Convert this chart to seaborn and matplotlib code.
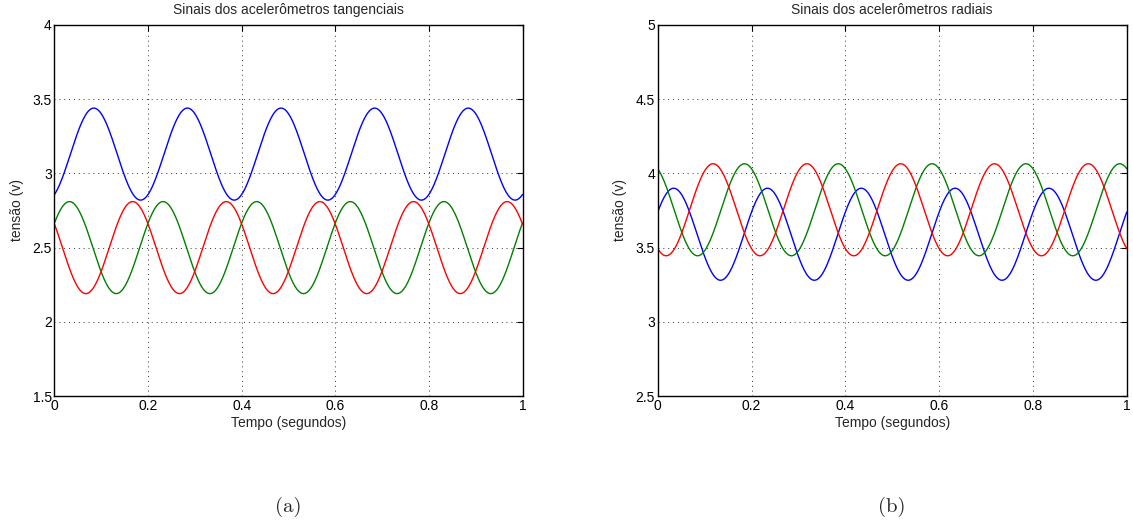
import numpy as np
import pandas as pd
import matplotlib
matplotlib.use("Agg")
import matplotlib.pyplot as plt
import seaborn as sns

# ── dados (sinais senoidais, período 0.2 s) ──
periodo = 0.2
tempo = np.linspace(0, 1, 1001)

cores = ["#0000FF", "#008000", "#FF0000"]
sinais = ["azul", "verde", "vermelho"]

# tangenciais: nível médio, amplitude, instante do primeiro pico
tang_media = [3.13, 2.50, 2.50]
tang_amp = [0.31, 0.31, 0.31]
tang_pico = [0.084, 0.032, 0.167]

# radiais
rad_media = [3.59, 3.755, 3.755]
rad_amp = [0.31, 0.31, 0.31]
rad_pico = [0.034, 0.185, 0.118]

titulos = ["Sinais dos acelerômetros tangenciais", "Sinais dos acelerômetros radiais"]
yticks_tang = [1.5, 2, 2.5, 3, 3.5, 4]
yticks_rad = [2.5, 3, 3.5, 4, 4.5, 5]
xticks = [0, 0.2, 0.4, 0.6, 0.8, 1]
rotulos = ["(a)", "(b)"]


def monta(media, amp, pico):
    linhas = []
    for nome, m, a, p in zip(sinais, media, amp, pico):
        v = m + a * np.cos(2 * np.pi * (tempo - p) / periodo)
        linhas.append(pd.DataFrame({"t": tempo, "v": v, "sinal": nome}))
    return pd.concat(linhas, ignore_index=True)


df_tang = monta(tang_media, tang_amp, tang_pico)
df_rad = monta(rad_media, rad_amp, rad_pico)

sns.set_style("white")
plt.rcParams["font.family"] = ["Liberation Sans", "DejaVu Sans"]

fig = plt.figure(figsize=(11.33, 5.25), dpi=100)
ax1 = fig.add_axes([0.0481, 0.2457, 0.4131, 0.7067])
ax2 = fig.add_axes([0.5805, 0.2457, 0.4140, 0.7067])

for ax, df, yt, tit, rot in zip([ax1, ax2], [df_tang, df_rad],
                                [yticks_tang, yticks_rad], titulos, rotulos):
    sns.lineplot(data=df, x="t", y="v", hue="sinal", palette=cores,
                 hue_order=sinais, linewidth=1.0, legend=False, ax=ax,
                 sort=False, estimator=None)
    ax.set_xlim(0, 1)
    ax.set_ylim(yt[0], yt[-1])
    ax.set_xticks(xticks)
    ax.set_xticklabels(["0", "0.2", "0.4", "0.6", "0.8", "1"])
    ax.set_yticks(yt)
    ax.set_yticklabels([f"{v:g}" for v in yt])
    ax.grid(True, linestyle=(0, (1, 4)), color="#333333", linewidth=0.7)
    ax.tick_params(direction="in", length=4, width=0.8, top=True, right=True,
                   labelsize=10, pad=2, colors="black")
    for s in ax.spines.values():
        s.set_visible(True)
        s.set_color("black")
        s.set_linewidth(1.0)
    ax.set_title(tit, fontsize=10, pad=8)
    ax.set_xlabel("Tempo (segundos)", fontsize=10, labelpad=2)
    ax.set_ylabel("tensão (v)", fontsize=10, labelpad=6)
    pos = ax.get_position()
    fig.text(pos.x0 + pos.width / 2, 0.015, rot, ha="center", va="bottom",
             fontsize=15, family=["cmr10", "DejaVu Serif"])

fig.savefig("out.png", dpi=100, facecolor="white")
